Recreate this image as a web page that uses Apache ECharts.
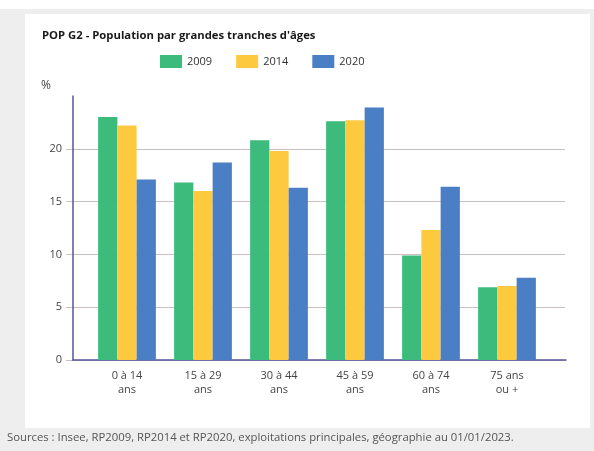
<!DOCTYPE html>
<html><head><meta charset="utf-8">
<script src="https://cdn.jsdelivr.net/npm/echarts@6/dist/echarts.min.js"></script>
<style>html,body{margin:0;padding:0;background:#eeeeee;}#c{width:594px;height:451px;}</style>
</head><body><div id="c"></div>
<script>
const categories = ['0 à 14\nans', '15 à 29\nans', '30 à 44\nans', '45 à 59\nans', '60 à 74\nans', '75 ans\nou +'];
const v2009 = [23.0, 16.8, 20.8, 22.6, 9.9, 6.9];
const v2014 = [22.2, 16.0, 19.8, 22.7, 12.3, 7.0];
const v2020 = [17.1, 18.7, 16.3, 23.9, 16.4, 7.8];
const yTicks = [0, 5, 10, 15, 20, 25];

const font = '"Open Sans", "Noto Sans", sans-serif';
const chart = echarts.init(document.getElementById('c'), null, {renderer: 'canvas'});
const yMin = yTicks[0], yMax = yTicks[yTicks.length - 1], yStep = yTicks[1] - yTicks[0];
const gridTop = 96, gridBottom = 91;
chart.setOption({
  backgroundColor: '#eeeeee',
  animation: false,
  graphic: [
    {type: 'rect', z: -10, shape: {x: 0, y: 0, width: 594, height: 9}, style: {fill: '#ffffff'}},
    {type: 'rect', z: -10, shape: {x: 25, y: 14, width: 565, height: 414}, style: {fill: '#ffffff'}},
    {type: 'text', left: 42, top: 30, style: {text: "POP G2 - Population par grandes tranches d'âges", font: 'bold 11.3px ' + font, fill: '#1a1a1a'}},
    {type: 'text', left: 41, top: 80, style: {text: '%', font: '12px ' + font, fill: '#444'}},
    {type: 'text', left: 7, top: 432, style: {text: 'Sources : Insee, RP2009, RP2014 et RP2020, exploitations principales, géographie au 01/01/2023.', font: '11.3px ' + font, fill: '#555'}}
  ],
  legend: {
    left: 155, top: 50, itemWidth: 22, itemHeight: 13, itemGap: 24,
    icon: 'rect',
    textStyle: {fontFamily: font, fontSize: 11, color: '#333'},
    data: ['2009', '2014', '2020']
  },
  grid: [
    {left: 89, right: 49, top: gridTop, bottom: gridBottom},
    {left: 66, right: 29, top: gridTop, bottom: gridBottom},
    {left: 73, right: 28, top: gridTop, bottom: gridBottom}
  ],
  xAxis: [
    {type: 'category', gridIndex: 0, data: categories,
     axisLine: {show: false}, axisTick: {show: false},
     axisLabel: {fontFamily: font, fontSize: 11, color: '#444', margin: 9, lineHeight: 14, interval: 0}},
    {type: 'value', gridIndex: 1, min: 0, max: 1, show: false},
    {type: 'value', gridIndex: 2, min: 0, max: 1,
     axisLine: {show: true, lineStyle: {color: '#55559a', width: 1.5}},
     axisTick: {show: false}, axisLabel: {show: false}, splitLine: {show: false}}
  ],
  yAxis: [
    {type: 'value', gridIndex: 0, min: yMin, max: yMax, interval: yStep, offset: 16,
     axisLine: {show: true, lineStyle: {color: '#55559a', width: 1.5}},
     axisTick: {show: false}, splitLine: {show: false},
     axisLabel: {fontFamily: font, fontSize: 11, color: '#444', margin: 11, showMaxLabel: false}},
    {type: 'value', gridIndex: 1, min: yMin, max: yMax, interval: yStep,
     axisLine: {show: false}, axisTick: {show: false}, axisLabel: {show: false},
     splitLine: {show: true, showMaxLine: false, lineStyle: {color: '#cbbfbf', width: 1}}},
    {type: 'value', gridIndex: 2, min: yMin, max: yMax, show: false}
  ],
  series: [
    {name: '2009', type: 'bar', xAxisIndex: 0, yAxisIndex: 0, data: v2009, itemStyle: {color: '#3dbb7d'}, barGap: '0%', barCategoryGap: '24%'},
    {name: '2014', type: 'bar', xAxisIndex: 0, yAxisIndex: 0, data: v2014, itemStyle: {color: '#fdca3f'}},
    {name: '2020', type: 'bar', xAxisIndex: 0, yAxisIndex: 0, data: v2020, itemStyle: {color: '#4a7fc5'}}
  ]
});
</script></body></html>
